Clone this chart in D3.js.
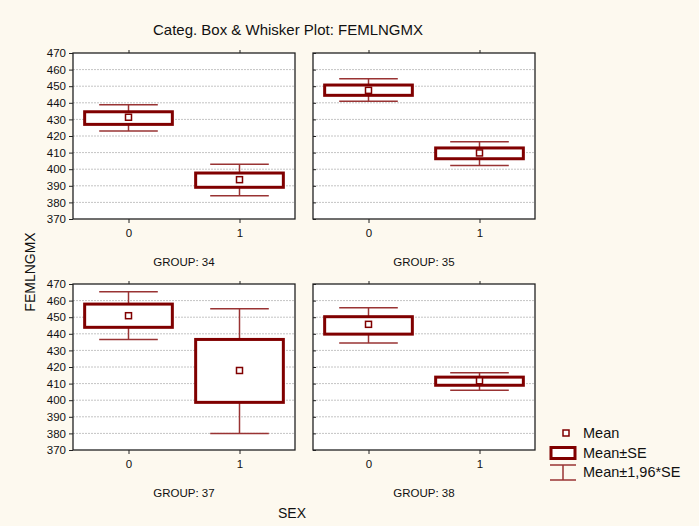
<!DOCTYPE html>
<html>
<head>
<meta charset="utf-8">
<script src="https://cdn.jsdelivr.net/npm/d3@7"></script>
<style>
  body { margin: 0; background: #fdf9ef; }
  text { font-family: "Liberation Sans", Arial, sans-serif; fill: #111; }
</style>
</head>
<body>
<div id="chart"></div>
<script>
// Dati
const groups = ["34", "35", "37", "38"];
const sexes = ["0", "1"];
const means = [[431.3, 393.7], [447.5, 409.8], [450.9, 417.9], [445.7, 411.7]];
const seLow = [[427.0, 389.1], [444.5, 406.3], [443.9, 398.7], [439.8, 409.0]];
const seHigh = [[434.6, 397.7], [450.7, 412.8], [457.9, 436.6], [450.3, 413.9]];
const ciLow = [[423.0, 384.0], [441.0, 402.3], [436.6, 380.0], [434.4, 406.0]];
const ciHigh = [[438.9, 403.0], [454.5, 416.6], [465.4, 455.1], [455.7, 416.5]];
const yTicks = [370, 380, 390, 400, 410, 420, 430, 440, 450, 460, 470];
const legendLabels = ["Mean", "Mean±SE", "Mean±1,96*SE"];

const width = 699;
const height = 526;
const dark = "#800000";
const whisk = "#993333";

const svg = d3.select("#chart").append("svg")
  .attr("width", width).attr("height", height);

svg.append("rect").attr("width", width).attr("height", height).attr("fill", "#fdf9ef");

// Titolo
svg.append("text").attr("x", 288).attr("y", 35).attr("text-anchor", "middle")
  .style("font-size", "15px").text("Categ. Box & Whisker Plot: FEMLNGMX");

// Etichette assi
svg.append("text").attr("transform", "translate(35,272) rotate(-90)")
  .attr("text-anchor", "middle").style("font-size", "14px").text("FEMLNGMX");
svg.append("text").attr("x", 292).attr("y", 518).attr("text-anchor", "middle")
  .style("font-size", "14px").text("SEX");

// Posizione dei pannelli
const panelX = [73, 313];
const panelY = [53, 284];
const pw = 222;
const ph = 166;

groups.forEach((g, i) => {
  const col = i % 2;
  const row = Math.floor(i / 2);
  const x0 = panelX[col];
  const y0 = panelY[row];

  const x = d3.scalePoint().domain(sexes).range([0, pw]).padding(0.5);
  const y = d3.scaleLinear().domain([370, 470]).range([ph, 0]);
  const unit = x.step();

  const p = svg.append("g").attr("transform", `translate(${x0},${y0})`);

  p.append("rect").attr("width", pw).attr("height", ph).attr("fill", "#fff");

  // griglia tratteggiata
  p.selectAll(".grid").data(yTicks.slice(1, -1)).join("line")
    .attr("x1", 0).attr("x2", pw)
    .attr("y1", (d) => y(d)).attr("y2", (d) => y(d))
    .attr("stroke", "#c4c4c4").attr("stroke-dasharray", "2,1");

  // asse Y
  const yAxis = col === 0
    ? d3.axisLeft(y).tickValues(yTicks).tickSize(4).tickPadding(3)
    : d3.axisLeft(y).tickValues(yTicks).tickSize(-3).tickFormat("");
  const ya = p.append("g").call(yAxis);
  ya.select(".domain").remove();
  ya.selectAll("text").style("font-size", "11.5px").attr("fill", "#111");
  ya.selectAll("line").attr("stroke", "#222");

  // asse X
  const xa = p.append("g").attr("transform", `translate(0,${ph})`)
    .call(d3.axisBottom(x).tickSize(4).tickPadding(6));
  xa.select(".domain").remove();
  xa.selectAll("text").style("font-size", "11.5px").attr("fill", "#111");
  xa.selectAll("line").attr("stroke", "#222");
  const xt = p.append("g").call(d3.axisTop(x).tickSize(3).tickFormat(""));
  xt.select(".domain").remove();
  xt.selectAll("line").attr("stroke", "#222");

  // cornice
  p.append("rect").attr("width", pw).attr("height", ph)
    .attr("fill", "none").attr("stroke", "#222").attr("stroke-width", 1.3);

  const data = sexes.map((s, j) => ({
    s, mean: means[i][j], lo: seLow[i][j], hi: seHigh[i][j],
    wlo: ciLow[i][j], whi: ciHigh[i][j]
  }));

  const item = p.selectAll(".item").data(data).join("g");
  const capW = unit * 0.264;
  const boxW = unit * 0.395;

  // baffi
  item.append("line").attr("x1", (d) => x(d.s)).attr("x2", (d) => x(d.s))
    .attr("y1", (d) => y(d.whi)).attr("y2", (d) => y(d.hi))
    .attr("stroke", whisk).attr("stroke-width", 1.5);
  item.append("line").attr("x1", (d) => x(d.s)).attr("x2", (d) => x(d.s))
    .attr("y1", (d) => y(d.lo)).attr("y2", (d) => y(d.wlo))
    .attr("stroke", whisk).attr("stroke-width", 1.5);
  item.append("line").attr("x1", (d) => x(d.s) - capW).attr("x2", (d) => x(d.s) + capW)
    .attr("y1", (d) => y(d.whi)).attr("y2", (d) => y(d.whi))
    .attr("stroke", whisk).attr("stroke-width", 1.5);
  item.append("line").attr("x1", (d) => x(d.s) - capW).attr("x2", (d) => x(d.s) + capW)
    .attr("y1", (d) => y(d.wlo)).attr("y2", (d) => y(d.wlo))
    .attr("stroke", whisk).attr("stroke-width", 1.5);

  // box Mean±SE
  item.append("rect")
    .attr("x", (d) => x(d.s) - boxW).attr("width", boxW * 2)
    .attr("y", (d) => y(d.hi)).attr("height", (d) => y(d.lo) - y(d.hi))
    .attr("fill", "#fff").attr("stroke", dark).attr("stroke-width", 3);

  // media
  item.append("rect")
    .attr("x", (d) => x(d.s) - 3).attr("y", (d) => y(d.mean) - 3)
    .attr("width", 6).attr("height", 6)
    .attr("fill", "#fff").attr("stroke", dark).attr("stroke-width", 1.5);

  // etichetta gruppo
  svg.append("text").attr("x", x0 + pw / 2).attr("y", y0 + ph + 47)
    .attr("text-anchor", "middle").style("font-size", "11.5px")
    .text("GROUP: " + g);
});

// Legenda
const leg = svg.append("g");
leg.append("rect").attr("x", 563).attr("y", 430).attr("width", 6).attr("height", 6)
  .attr("fill", "#fff").attr("stroke", dark).attr("stroke-width", 1.5);
leg.append("rect").attr("x", 551).attr("y", 447.5).attr("width", 24).attr("height", 11)
  .attr("fill", "#fff").attr("stroke", dark).attr("stroke-width", 3);
leg.append("line").attr("x1", 550).attr("x2", 576).attr("y1", 465).attr("y2", 465)
  .attr("stroke", whisk).attr("stroke-width", 1.5);
leg.append("line").attr("x1", 550).attr("x2", 576).attr("y1", 480).attr("y2", 480)
  .attr("stroke", whisk).attr("stroke-width", 1.5);
leg.append("line").attr("x1", 563).attr("x2", 563).attr("y1", 465).attr("y2", 480)
  .attr("stroke", whisk).attr("stroke-width", 1.5);
leg.selectAll(".lt").data(legendLabels).join("text")
  .attr("x", 583).attr("y", (d, k) => 438 + k * 19.5)
  .style("font-size", "14.5px").text((d) => d);
</script>
</body>
</html>
